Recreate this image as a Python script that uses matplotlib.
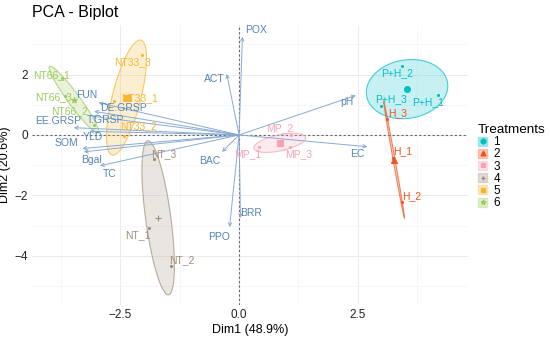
import numpy as np
import matplotlib
matplotlib.use("Agg")
import matplotlib.pyplot as plt
from matplotlib.patches import Rectangle
from matplotlib.lines import Line2D
from matplotlib.ticker import MultipleLocator

plt.rcParams['font.family'] = ['Liberation Sans', 'DejaVu Sans']

# individuals (PCA scores)
ind_names = ["P+H_1", "P+H_2", "P+H_3", "H_1", "H_2", "H_3",
             "MP_1", "MP_2", "MP_3", "NT_1", "NT_2", "NT_3",
             "NT33_1", "NT33_2", "NT33_3", "NT66_1", "NT66_2", "NT66_3"]
ind_dim1 = [4.19, 3.43, 2.99, 3.24, 3.43, 3.12,
            0.41, 1.09, 1.07, -1.89, -1.43, -1.79,
            -2.64, -2.42, -2.05, -3.72, -3.05, -3.66]
ind_dim2 = [1.31, 2.29, 0.95, -0.76, -2.22, 0.53,
            -0.39, 0.00, -0.39, -3.09, -4.35, -0.79,
            1.12, -0.05, 2.64, 1.88, 0.33, 1.30]
treatment = [1, 1, 1, 2, 2, 2, 3, 3, 3, 4, 4, 4, 5, 5, 5, 6, 6, 6]
groups = [1, 2, 3, 4, 5, 6]

# variables (loadings)
var_names = ["POX", "ACT", "pH", "EC", "BAC", "BRR", "PPO", "FUN", "DE.GRSP",
             "T.GRSP", "EE.GRSP", "YLD", "SOM", "Bgal", "TC"]
var_dim1 = [0.07, -0.26, 2.46, 2.70, -0.36, 0.03, -0.20, -2.96, -3.05,
            -3.10, -3.48, -3.15, -3.30, -3.27, -2.93]
var_dim2 = [3.25, 2.02, 1.31, -0.39, -0.56, -2.75, -3.05, 1.07, 0.78,
            0.62, 0.24, 0.12, -0.45, -0.56, -1.02]

# label placement (layout)
ind_label_xy = {
    "P+H_1": (3.97, 1.10), "P+H_2": (3.33, 2.05), "P+H_3": (3.19, 1.18),
    "H_1": (3.44, -0.53), "H_2": (3.64, -2.02), "H_3": (3.34, 0.71),
    "MP_1": (0.18, -0.64), "MP_2": (0.86, 0.22), "MP_3": (1.26, -0.62),
    "NT_1": (-2.13, -3.31), "NT_2": (-1.21, -4.15), "NT_3": (-1.58, -0.62),
    "NT33_1": (-2.09, 1.21), "NT33_2": (-2.12, 0.30), "NT33_3": (-2.25, 2.41),
    "NT66_1": (-3.94, 1.99), "NT66_2": (-3.57, 0.78), "NT66_3": (-3.90, 1.24),
}
var_label_xy = {
    "POX": (0.36, 3.48), "ACT": (-0.52, 1.85), "pH": (2.27, 1.09),
    "EC": (2.48, -0.62), "BAC": (-0.61, -0.87), "BRR": (0.25, -2.60),
    "PPO": (-0.42, -3.37), "FUN": (-3.20, 1.31), "DE.GRSP": (-2.44, 0.90),
    "T.GRSP": (-2.82, 0.50), "EE.GRSP": (-3.82, 0.45), "YLD": (-3.07, -0.06),
    "SOM": (-3.63, -0.28), "Bgal": (-3.11, -0.84), "TC": (-2.72, -1.29),
}

colors = {1: '#00BFC4', 2: '#F4511E', 3: '#F8A3B5',
          4: '#9E8E78', 5: '#F5B731', 6: '#9CCB5E'}
markers = {1: 'o', 2: '^', 3: 's', 4: '+', 5: 's', 6: '*'}
var_col = '#88AAD2'
var_txt = '#5585B8'

fig = plt.figure(figsize=(5.5, 3.39), dpi=100)
ax = fig.add_axes([32 / 550, 34 / 339, 436 / 550, 280 / 339])

ax.set_xlim(-4.36, 4.82)
ax.set_ylim(-5.63, 3.64)
ax.xaxis.set_major_locator(MultipleLocator(2.5))
ax.xaxis.set_minor_locator(MultipleLocator(1.25))
ax.yaxis.set_major_locator(MultipleLocator(2))
ax.yaxis.set_minor_locator(MultipleLocator(1))
ax.grid(which='major', color='#EBEBEB', lw=0.7)
ax.grid(which='minor', color='#F4F4F4', lw=0.5)
ax.set_axisbelow(True)
for s in ax.spines.values():
    s.set_visible(False)
ax.tick_params(which='both', length=0, labelsize=8.5, labelcolor='#222222', pad=3)

ax.axhline(0, color='#666666', ls=(0, (2, 2)), lw=0.8, zorder=1)
ax.axvline(0, color='#666666', ls=(0, (2, 2)), lw=0.8, zorder=1)

x = np.array(ind_dim1)
y = np.array(ind_dim2)
tr = np.array(treatment)

# confidence ellipses around group means
t = np.linspace(0, 2 * np.pi, 200)
for g in groups:
    m = tr == g
    gx, gy = x[m], y[m]
    cov = np.cov(gx, gy) / m.sum()
    vals, vecs = np.linalg.eigh(cov)
    r = np.sqrt(5.991)
    circ = np.vstack([np.cos(t), np.sin(t)])
    pts = vecs @ (np.sqrt(np.maximum(vals, 0))[:, None] * circ) * r
    ax.fill(gx.mean() + pts[0], gy.mean() + pts[1], facecolor=colors[g],
            alpha=0.22, edgecolor='none', zorder=2)
    ax.plot(gx.mean() + pts[0], gy.mean() + pts[1], color=colors[g],
            lw=0.8, alpha=0.7, zorder=2)

# variable arrows
for name, vx, vy in zip(var_names, var_dim1, var_dim2):
    ax.annotate('', xy=(vx, vy), xytext=(0, 0),
                arrowprops=dict(arrowstyle='->', color=var_col, lw=0.7,
                                mutation_scale=6, shrinkA=0, shrinkB=0),
                zorder=3)
    lx, ly = var_label_xy[name]
    ax.text(lx, ly, name, color=var_txt, fontsize=7.5, ha='center', va='center', zorder=4)

# individuals
for g in groups:
    m = tr == g
    ax.scatter(x[m], y[m], s=5, color=colors[g], marker='o', zorder=4, linewidths=0)
    ax.scatter(x[m].mean(), y[m].mean(), s=18, color=colors[g], marker=markers[g],
               zorder=5, linewidths=0.8)
for name, g in zip(ind_names, treatment):
    lx, ly = ind_label_xy[name]
    ax.text(lx, ly, name, color=colors[g], fontsize=7.5, ha='center', va='center', zorder=6)

ax.set_xlabel('Dim1 (48.9%)', fontsize=9, labelpad=2)
ax.set_ylabel('Dim2 (20.6%)', fontsize=9)
ax.yaxis.set_label_coords(-0.048, 0.5)
fig.text(32 / 550, 1 - 13 / 339, 'PCA - Biplot', fontsize=11.5, ha='left', va='center')

handles = []
for g in groups:
    box = Rectangle((0, 0), 1, 1, facecolor=colors[g], alpha=0.3, edgecolor=colors[g], lw=1)
    mk = Line2D([], [], ls='', marker=markers[g], color=colors[g], markersize=3.5)
    handles.append((box, mk))
leg = fig.legend(handles, [str(g) for g in groups], title='Treatments',
                 loc='upper left', bbox_to_anchor=(472 / 550, 1 - 118 / 339),
                 frameon=False, fontsize=8.5, title_fontsize=9.7,
                 handlelength=0.8, handleheight=0.8, handletextpad=0.5,
                 labelspacing=0.02, borderpad=0)
leg._legend_box.align = 'left'

fig.savefig('out.png', dpi=100)
